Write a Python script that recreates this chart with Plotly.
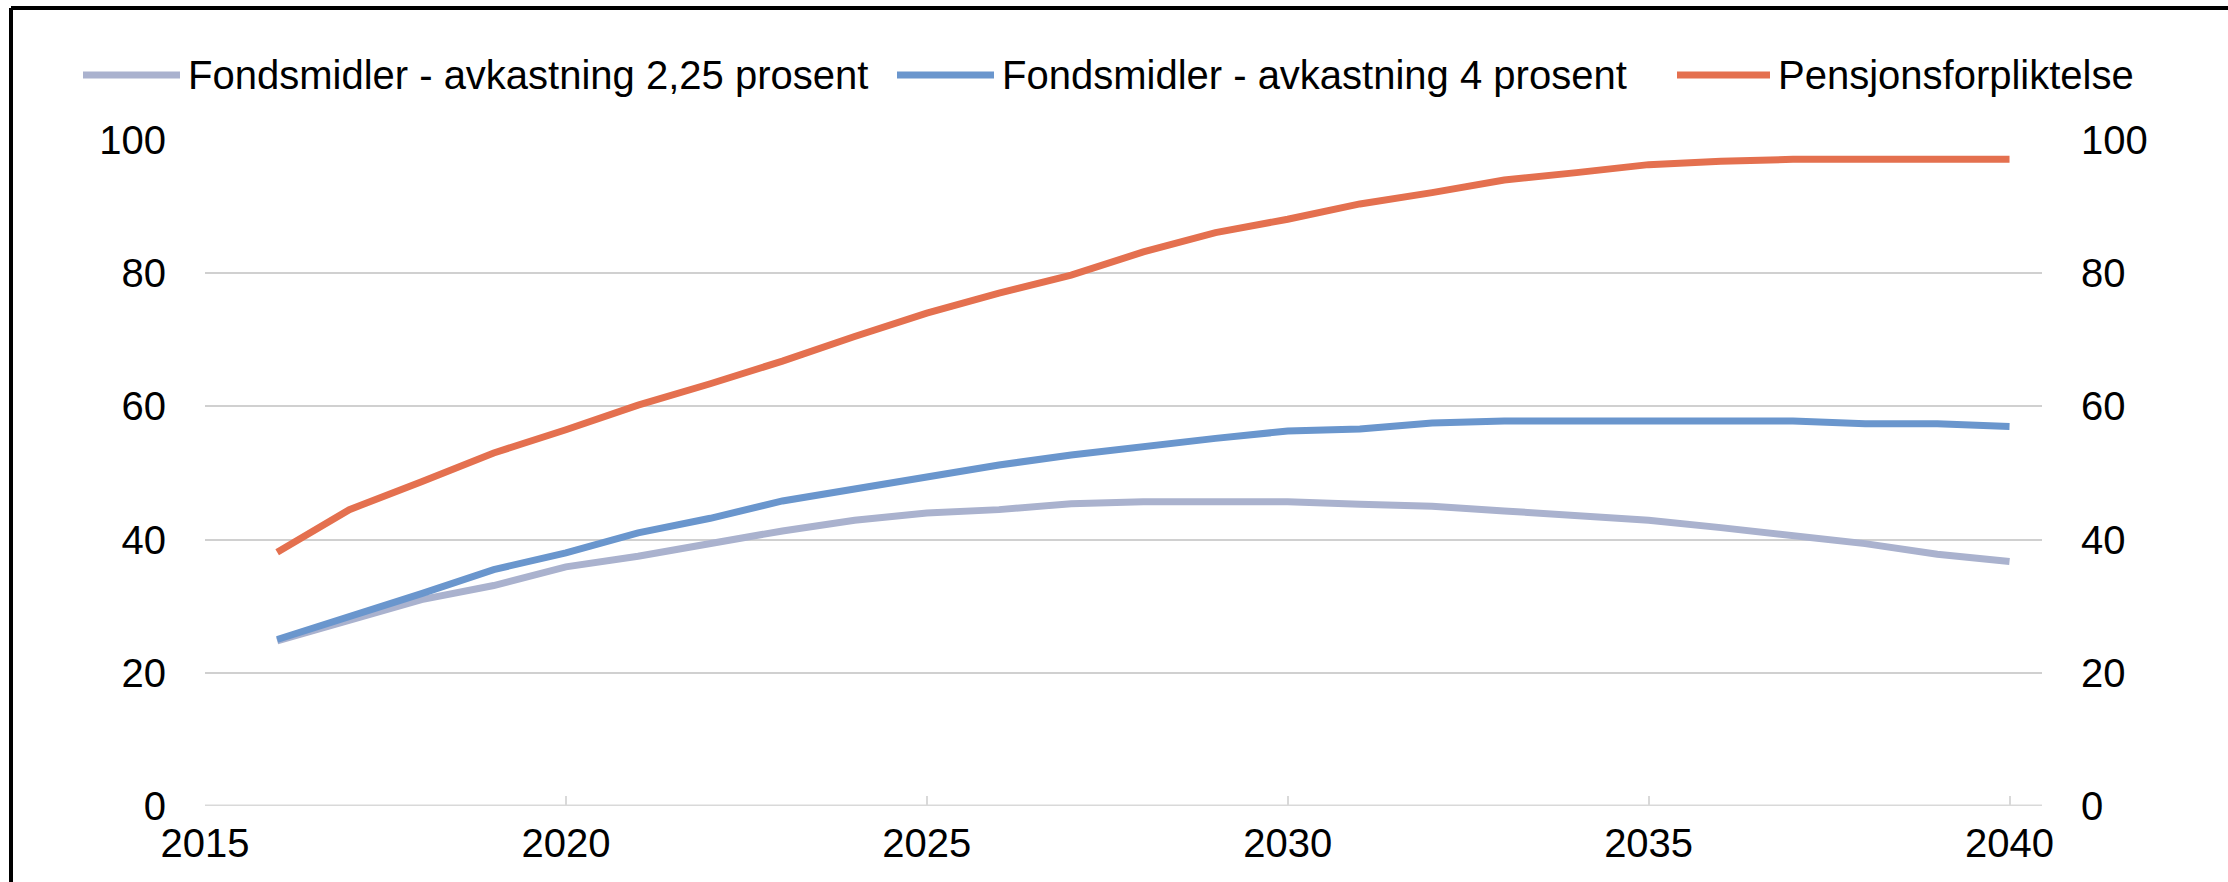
import plotly.graph_objects as go

# data
years = list(range(2016, 2041))

fond_225 = [24.8, 28.0, 31.0, 33.1, 35.9, 37.5, 39.4, 41.3, 42.9, 44.0,
            44.5, 45.4, 45.7, 45.7, 45.7, 45.3, 45.0, 44.3, 43.6, 42.9,
            41.8, 40.7, 39.4, 37.8, 36.7]

fond_4 = [25.0, 28.4, 31.9, 35.5, 38.0, 41.0, 43.2, 45.8, 47.6, 49.3,
          51.2, 52.7, 54.0, 55.2, 56.3, 56.6, 57.5, 57.8, 57.8, 57.8,
          57.8, 57.8, 57.4, 57.4, 57.0]

pensjon = [38.1, 44.5, 48.7, 53.0, 56.5, 60.2, 63.4, 66.8, 70.5, 74.0,
           77.0, 79.7, 83.2, 86.1, 88.1, 90.4, 92.1, 94.0, 95.1, 96.3,
           96.8, 97.1, 97.1, 97.1, 97.1]

series_names = ["Fondsmidler - avkastning 2,25 prosent",
                "Fondsmidler - avkastning 4 prosent",
                "Pensjonsforpliktelse"]
series_colors = ["#AAB2CE", "#6A96CD", "#E4704F"]

x_ticks = [2015, 2020, 2025, 2030, 2035, 2040]
y_ticks = [0, 20, 40, 60, 80, 100]

FONT = "Liberation Sans, Arial, sans-serif"
W, H = 2228, 882

# plot area in pixels
plot_l, plot_r, plot_t, plot_b = 205, 2042, 140, 806
pw, ph = plot_r - plot_l, plot_b - plot_t


def px(x):
    return (x - plot_l) / pw


def py(y):
    return (plot_b - y) / ph


fig = go.Figure()
for name, vals, color in zip(series_names, [fond_225, fond_4, pensjon], series_colors):
    fig.add_trace(go.Scatter(x=years, y=vals, name=name, mode="lines",
                             line=dict(color=color, width=7), showlegend=False))

# invisible copy so the right-hand axis is drawn
fig.add_trace(go.Scatter(x=years, y=pensjon, yaxis="y2", mode="lines",
                         line=dict(width=0), showlegend=False, hoverinfo="skip"))

shapes = [
    # frame (left and top edges are visible in the picture)
    dict(type="line", xref="paper", yref="paper",
         x0=px(11), x1=px(W + 5), y0=py(8), y1=py(8),
         line=dict(color="black", width=4)),
    dict(type="line", xref="paper", yref="paper",
         x0=px(11), x1=px(11), y0=py(8), y1=py(H + 5),
         line=dict(color="black", width=4)),
    # x axis baseline
    dict(type="line", xref="paper", yref="y", x0=0, x1=1, y0=0, y1=0,
         line=dict(color="#d9d9d9", width=3)),
]
annotations = []

# legend drawn by hand, Excel style with long line keys
legend_y = 75
legend_keys = [(83, 180), (897, 994), (1677, 1770)]
for (k0, k1), name, color in zip(legend_keys, series_names, series_colors):
    shapes.append(dict(type="line", xref="paper", yref="paper",
                       x0=px(k0), x1=px(k1), y0=py(legend_y), y1=py(legend_y),
                       line=dict(color=color, width=7)))
    annotations.append(dict(text=name, xref="paper", yref="paper",
                            x=px(k1 + 6), y=py(legend_y), xanchor="left",
                            yanchor="middle", showarrow=False,
                            font=dict(size=40, family=FONT, color="black")))

fig.update_layout(
    width=W, height=H,
    margin=dict(l=plot_l, r=W - plot_r, t=plot_t, b=H - plot_b),
    paper_bgcolor="white", plot_bgcolor="white",
    font=dict(family=FONT, size=40, color="black"),
    showlegend=False,
    xaxis=dict(range=[2015, 2040.45], tickvals=x_ticks, showgrid=False,
               zeroline=False, showline=False, ticks="inside", ticklen=10,
               tickwidth=2, tickcolor="#d9d9d9", ticklabelstandoff=10),
    yaxis=dict(range=[0, 100], tickvals=y_ticks, showgrid=True,
               gridcolor="#d0d0d0", gridwidth=2, zeroline=False,
               showline=False, ticks="", ticklabelstandoff=38),
    yaxis2=dict(range=[0, 100], tickvals=y_ticks, overlaying="y", side="right",
                showgrid=False, zeroline=False, showline=False, ticks="",
                ticklabelstandoff=38),
    shapes=shapes,
    annotations=annotations,
)

# page body has a default margin that would push the chart off its spot
fig.write_html("out.html", config={"displayModeBar": False},
               post_script="document.body.style.margin='0';")
